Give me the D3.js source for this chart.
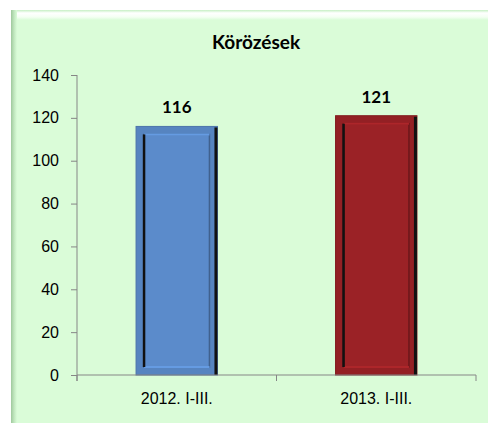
<!DOCTYPE html>
<html>
<head>
<meta charset="utf-8">
<script src="https://cdn.jsdelivr.net/npm/d3@7"></script>
<style>
  body { margin: 0; background: #fff; }
  svg { display: block; font-family: Lato, "Open Sans", sans-serif; }
  .axis path, .axis line { stroke: #868686; }
  .axis text { fill: #000; font-size: 16px; }
</style>
</head>
<body>
<svg id="chart" width="488" height="423"></svg>
<script>
"use strict";

//Chart data
var categories = ["2012. I-III.", "2013. I-III."];
var values = [116, 121];
var barColors = ["#5b8bcb", "#9b2226"];
var yTicks = [0, 20, 40, 60, 80, 100, 120, 140];
var title = "Körözések";

var svg = d3.select("#chart");
var defs = svg.append("defs");

//Panel background with bevelled top and left edge
var topGrad = defs.append("linearGradient").attr("id", "topGrad")
  .attr("x1", 0).attr("y1", 0).attr("x2", 0).attr("y2", 1);
topGrad.append("stop").attr("offset", "0%").attr("stop-color", "#c6efc4");
topGrad.append("stop").attr("offset", "30%").attr("stop-color", "#ffffff");
topGrad.append("stop").attr("offset", "70%").attr("stop-color", "#f4fff3");
topGrad.append("stop").attr("offset", "100%").attr("stop-color", "#dafcd8");

var leftGrad = defs.append("linearGradient").attr("id", "leftGrad")
  .attr("x1", 0).attr("y1", 0).attr("x2", 1).attr("y2", 0);
leftGrad.append("stop").attr("offset", "0%").attr("stop-color", "#9fc89d");
leftGrad.append("stop").attr("offset", "50%").attr("stop-color", "#bfe6bd");
leftGrad.append("stop").attr("offset", "100%").attr("stop-color", "#dafcd8");

svg.append("rect").attr("x", 11).attr("y", 10).attr("width", 477).attr("height", 413)
  .attr("fill", "#dafcd8");
svg.append("rect").attr("x", 11).attr("y", 10).attr("width", 477).attr("height", 10)
  .attr("fill", "url(#topGrad)");
svg.append("rect").attr("x", 11).attr("y", 10).attr("width", 6).attr("height", 413)
  .attr("fill", "url(#leftGrad)");

//Title
svg.append("text")
  .attr("x", 256).attr("y", 49)
  .attr("text-anchor", "middle")
  .style("font-size", "19px").style("font-weight", "bold")
  .text(title);

//Scales
var x = d3.scaleBand().domain(categories).range([77, 476])
  .paddingInner(0.592).paddingOuter(0.296);
var y = d3.scaleLinear().domain([0, 140]).range([375, 75]);

//Y axis
var yAxis = svg.append("g").attr("class", "axis")
  .attr("transform", "translate(77,0)")
  .call(d3.axisLeft(y).tickValues(yTicks).tickSize(6).tickSizeOuter(0).tickPadding(12));
yAxis.select(".domain").attr("d", "M0," + y(140) + "V" + (y(0) + 6));

//Bars with a bevelled frame
var inset = 8;
var bar = svg.selectAll(".bar")
  .data(values)
  .enter().append("g")
  .attr("class", "bar");

bar.append("rect")
  .attr("x", function(d, i) { return x(categories[i]); })
  .attr("y", function(d) { return y(d); })
  .attr("width", x.bandwidth())
  .attr("height", function(d) { return y(0) - y(d); })
  .attr("fill", function(d, i) { return d3.color(barColors[i]).darker(0.15); })
  .attr("stroke", function(d, i) { return d3.color(barColors[i]).darker(0.5); })
  .attr("stroke-width", 1);

//Inner panel
bar.append("rect")
  .attr("x", function(d, i) { return x(categories[i]) + inset; })
  .attr("y", function(d) { return y(d) + inset; })
  .attr("width", x.bandwidth() - 2 * inset)
  .attr("height", function(d) { return y(0) - y(d) - 2 * inset; })
  .attr("fill", function(d, i) { return barColors[i]; })
  .attr("stroke", function(d, i) { return d3.color(barColors[i]).darker(1); })
  .attr("stroke-width", 1.5);

//Light top and bottom inner edges
bar.append("line")
  .attr("x1", function(d, i) { return x(categories[i]) + inset; })
  .attr("x2", function(d, i) { return x(categories[i]) + x.bandwidth() - inset; })
  .attr("y1", function(d) { return y(d) + inset; })
  .attr("y2", function(d) { return y(d) + inset; })
  .attr("stroke", function(d, i) { return d3.color(barColors[i]).brighter(0.3); })
  .attr("stroke-width", 2);
bar.append("line")
  .attr("x1", function(d, i) { return x(categories[i]) + inset; })
  .attr("x2", function(d, i) { return x(categories[i]) + x.bandwidth() - inset; })
  .attr("y1", y(0) - inset)
  .attr("y2", y(0) - inset)
  .attr("stroke", function(d, i) { return d3.color(barColors[i]).brighter(0.3); })
  .attr("stroke-width", 2);

//Dark left inner edge and dark right outer edge
bar.append("line")
  .attr("x1", function(d, i) { return x(categories[i]) + inset; })
  .attr("x2", function(d, i) { return x(categories[i]) + inset; })
  .attr("y1", function(d) { return y(d) + inset; })
  .attr("y2", y(0) - inset)
  .attr("stroke", "#111")
  .attr("stroke-width", 2.5);
bar.append("line")
  .attr("x1", function(d, i) { return x(categories[i]) + x.bandwidth() - 1.5; })
  .attr("x2", function(d, i) { return x(categories[i]) + x.bandwidth() - 1.5; })
  .attr("y1", function(d) { return y(d) + 1; })
  .attr("y2", y(0))
  .attr("stroke", "#111")
  .attr("stroke-width", 3);

//Value labels
bar.append("text")
  .attr("x", function(d, i) { return x(categories[i]) + x.bandwidth() / 2; })
  .attr("y", function(d) { return y(d) - 13; })
  .attr("text-anchor", "middle")
  .style("font-size", "17px").style("font-weight", "bold")
  .text(function(d) { return d; });

//X axis
var xAxis = svg.append("g").attr("class", "axis")
  .attr("transform", "translate(0," + y(0) + ")")
  .call(d3.axisBottom(x).tickSize(0).tickPadding(18));
xAxis.select(".domain").attr("d", "M77,0H476");

//Boundary ticks between categories
var bounds = [x.range()[0]].concat(categories.map(function(c) {
  return x(c) + x.bandwidth() + x.step() * x.paddingInner() / 2;
}));
bounds[bounds.length - 1] = x.range()[1];
xAxis.selectAll(".bound")
  .data(bounds)
  .enter().append("line")
  .attr("class", "bound")
  .attr("x1", function(d) { return d; })
  .attr("x2", function(d) { return d; })
  .attr("y1", 0).attr("y2", 6)
  .attr("stroke", "#868686");
</script>
</body>
</html>
